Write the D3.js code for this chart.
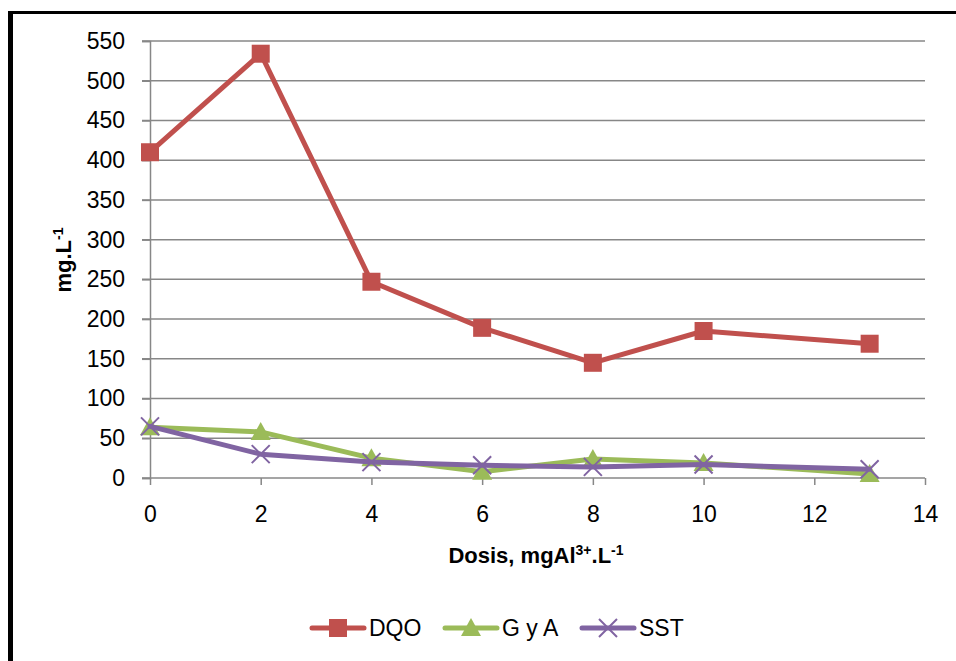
<!DOCTYPE html>
<html><head><meta charset="utf-8">
<script src="https://cdn.jsdelivr.net/npm/d3@7"></script>
<style>body{margin:0;background:#fff}svg{display:block}text{font-family:"Liberation Sans",Arial,sans-serif}</style>
</head><body>
<svg id="c" width="956" height="661"></svg>
<script>
const doses = [0, 2, 4, 6, 8, 10, 13];
const dqo = [410, 534, 247, 189, 145, 185, 169];
const gya = [64, 58, 25, 8, 24, 19, 5];
const sst = [65, 30, 20, 16, 14, 17, 11];
const seriesNames = ["DQO", "G y A", "SST"];
const seriesColors = ["#C0504D", "#9BBB59", "#8064A2"];
const seriesMarkers = ["square", "triangle", "x"];
const xTicks = [0, 2, 4, 6, 8, 10, 12, 14];
const yTicks = [0, 50, 100, 150, 200, 250, 300, 350, 400, 450, 500, 550];

const svg = d3.select("#c");
const x = d3.scaleLinear().domain([0, 14]).range([150, 925]);
const y = d3.scaleLinear().domain([0, 550]).range([478, 41]);
const grid = "#878787";

// border
svg.append("line").attr("x1", 10.5).attr("x2", 10.5).attr("y1", 11).attr("y2", 661).attr("stroke", "#000").attr("stroke-width", 5);
svg.append("line").attr("x1", 8).attr("x2", 956).attr("y1", 12.5).attr("y2", 12.5).attr("stroke", "#000").attr("stroke-width", 3);

// gridlines
svg.append("g").selectAll("line").data(yTicks.filter(d => d > 0)).join("line")
  .attr("x1", 142).attr("x2", 925).attr("y1", d => y(d)).attr("y2", d => y(d))
  .attr("stroke", grid).attr("stroke-width", 1.5);

// y axis
const ya = svg.append("g").attr("transform", "translate(150,0)")
  .call(d3.axisLeft(y).tickValues(yTicks).tickSize(8).tickPadding(17));
ya.select(".domain").attr("stroke", grid).attr("stroke-width", 1.5);
ya.selectAll(".tick line").attr("stroke", grid).attr("stroke-width", 1.5);
ya.selectAll("text").attr("font-size", 23).attr("fill", "#000").attr("font-family", "Liberation Sans");

// x axis
const xa = svg.append("g").attr("transform", "translate(0,478)")
  .call(d3.axisBottom(x).tickValues(xTicks).tickSize(7).tickPadding(21));
xa.select(".domain").attr("stroke", grid).attr("stroke-width", 1.5).attr("d", "M142,0H925");
xa.selectAll(".tick line").attr("stroke", grid).attr("stroke-width", 1.5);
xa.selectAll("text").attr("font-size", 23).attr("fill", "#000").attr("font-family", "Liberation Sans");

// axis titles
svg.append("text").attr("transform", "translate(71,260) rotate(-90)").attr("text-anchor", "middle")
  .attr("font-size", 22).attr("font-weight", "bold")
  .call(t => { t.append("tspan").text("mg.L"); t.append("tspan").attr("dy", -8).attr("font-size", 14).text("-1"); });
svg.append("text").attr("x", 536).attr("y", 563).attr("text-anchor", "middle")
  .attr("font-size", 22).attr("font-weight", "bold")
  .call(t => {
    t.append("tspan").text("Dosis, mgAl");
    t.append("tspan").attr("dy", -8).attr("font-size", 14).text("3+");
    t.append("tspan").attr("dy", 8).text(".L");
    t.append("tspan").attr("dy", -8).attr("font-size", 14).text("-1");
  });

function marker(g, type, color) {
  if (type === "square") {
    g.append("rect").attr("x", -9).attr("y", -9).attr("width", 18).attr("height", 18).attr("fill", color);
  } else if (type === "triangle") {
    g.append("path").attr("d", "M0,-10L10,8L-10,8Z").attr("fill", color);
  } else {
    g.append("path").attr("d", "M-9,-9L9,9M-9,9L9,-9").attr("stroke", color).attr("stroke-width", 2).attr("fill", "none");
  }
}

const allSeries = [dqo, gya, sst];
const line = d3.line().x((d, i) => x(doses[i])).y(d => y(d));
[1, 2, 0].forEach(k => {
  const vals = allSeries[k];
  svg.append("path").attr("d", line(vals)).attr("fill", "none")
    .attr("stroke", seriesColors[k]).attr("stroke-width", 5).attr("stroke-linejoin", "round").attr("stroke-linecap", "round");
  vals.forEach((v, i) => {
    const g = svg.append("g").attr("transform", `translate(${x(doses[i])},${y(v)})`);
    marker(g, seriesMarkers[k], seriesColors[k]);
  });
});

// legend
const legX = [310, 443, 580];
seriesNames.forEach((n, k) => {
  const g = svg.append("g").attr("transform", `translate(${legX[k]},628)`);
  g.append("line").attr("x1", 2).attr("x2", 54).attr("stroke", seriesColors[k]).attr("stroke-width", 5).attr("stroke-linecap", "round");
  const m = g.append("g").attr("transform", "translate(28,0)");
  marker(m, seriesMarkers[k], seriesColors[k]);
  g.append("text").attr("x", 59).attr("y", 8).attr("font-size", 23).text(n);
});
</script>
</body></html>
